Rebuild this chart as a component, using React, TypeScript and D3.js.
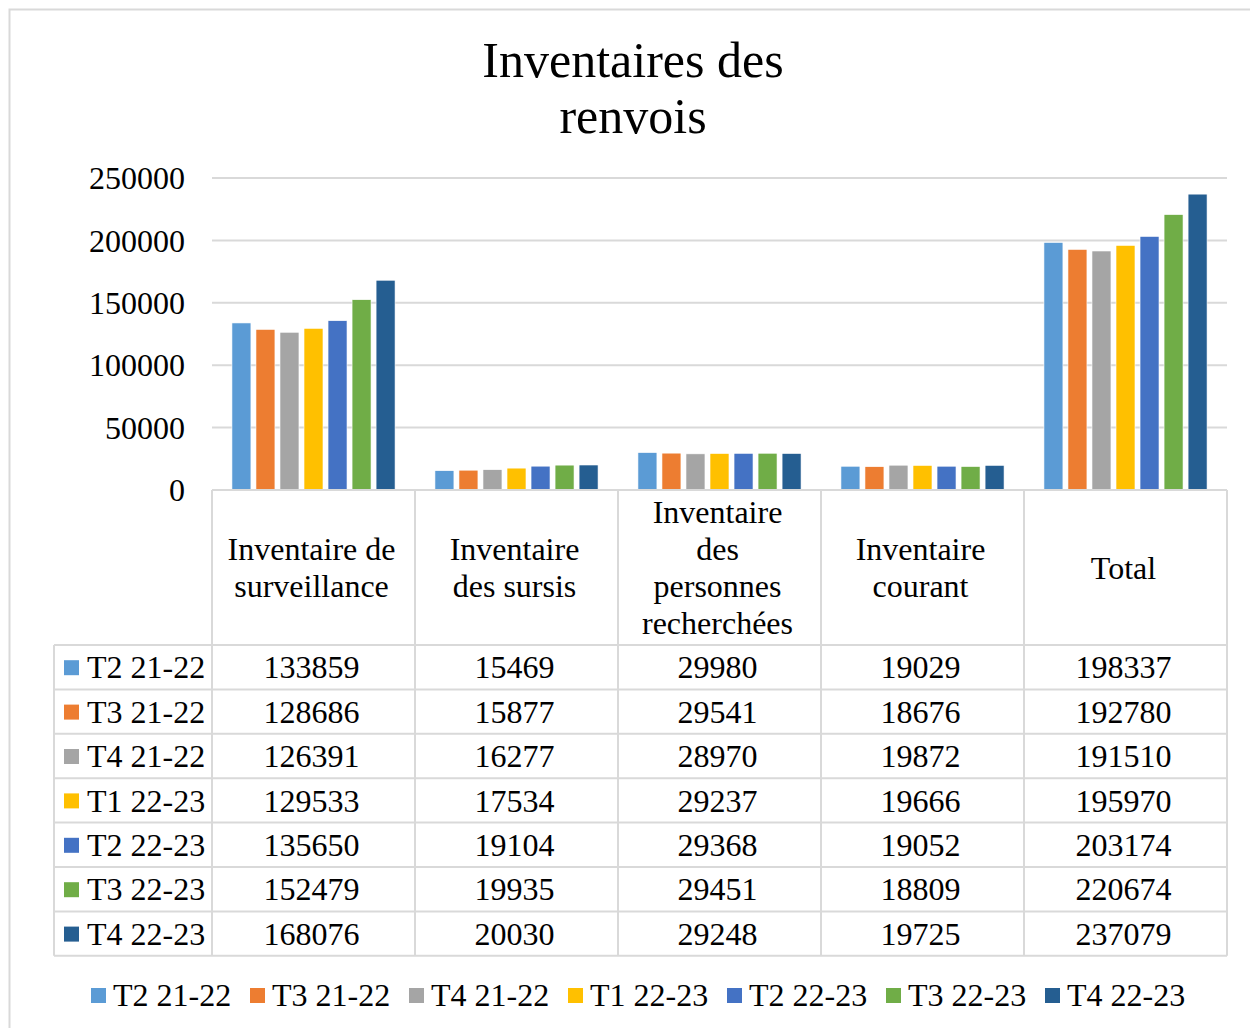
import React from 'react';
import * as d3 from 'd3';

const categories = [
  ['Inventaire de', 'surveillance'],
  ['Inventaire', 'des sursis'],
  ['Inventaire', 'des', 'personnes', 'recherchées'],
  ['Inventaire', 'courant'],
  ['Total'],
];
const seriesNames = ['T2 21-22', 'T3 21-22', 'T4 21-22', 'T1 22-23', 'T2 22-23', 'T3 22-23', 'T4 22-23'];
const seriesColors = ['#5B9BD5', '#ED7D31', '#A5A5A5', '#FFC000', '#4472C4', '#70AD47', '#255E91'];
const values = [
  [133859, 15469, 29980, 19029, 198337],
  [128686, 15877, 29541, 18676, 192780],
  [126391, 16277, 28970, 19872, 191510],
  [129533, 17534, 29237, 19666, 195970],
  [135650, 19104, 29368, 19052, 203174],
  [152479, 19935, 29451, 18809, 220674],
  [168076, 20030, 29248, 19725, 237079],
];
const yTicks = [0, 50000, 100000, 150000, 200000, 250000];

const W = 1250;
const H = 1028;
const plotLeft = 212;
const plotRight = 1227;
const plotTop = 178;
const plotBottom = 490;
const tableLeft = 54;
const headerBottom = 645;
const rowH = 44.4;
const font = '"Liberation Serif", "Times New Roman", serif';
const gridColor = '#D9D9D9';
const fs = 32;

export default function App() {
  const x = d3.scaleBand<number>()
    .domain(d3.range(categories.length))
    .range([plotLeft, plotRight]);
  const inner = d3.scaleBand<number>()
    .domain(d3.range(seriesNames.length))
    .range([0, x.bandwidth()])
    .paddingInner(0.21)
    .paddingOuter(0.83);
  const y = d3.scaleLinear().domain([0, 250000]).range([plotBottom, plotTop]);

  const tableBottom = headerBottom + rowH * seriesNames.length;
  const colEdges = [...x.domain().map(i => x(i)!), plotRight];

  return (
    <svg width={W} height={H} style={{ position: 'absolute', left: 0, top: 0, background: '#fff' }}
      fontFamily={font}>
      <rect x={9.5} y={9.5} width={W + 20} height={H + 20} fill="#fff" stroke={gridColor} strokeWidth={2} />

      <text x={633} y={77} textAnchor="middle" fontSize={50}>Inventaires des</text>
      <text x={633} y={133} textAnchor="middle" fontSize={50}>renvois</text>

      {yTicks.map(t => (
        <g key={t}>
          {t > 0 && <line x1={plotLeft} x2={plotRight} y1={y(t)} y2={y(t)} stroke={gridColor} strokeWidth={2} />}
          <text x={185} y={y(t)} dy="0.35em" textAnchor="end" fontSize={fs}>{t}</text>
        </g>
      ))}

      {values.map((row, s) => (
        <g key={s}>
          {row.map((v, c) => (
            <rect key={c}
              x={x(c)! + inner(s)!}
              y={y(v)}
              width={inner.bandwidth()}
              height={plotBottom - y(v)}
              fill={seriesColors[s]}
              stroke="#fff"
              strokeWidth={0.6} />
          ))}
        </g>
      ))}

      {/* data table */}
      <line x1={plotLeft} x2={plotRight} y1={plotBottom} y2={plotBottom} stroke={gridColor} strokeWidth={2} />
      {colEdges.map((cx, i) => (
        <line key={i} x1={cx} x2={cx} y1={plotBottom} y2={tableBottom} stroke={gridColor} strokeWidth={2} />
      ))}
      <line x1={tableLeft} x2={tableLeft} y1={headerBottom} y2={tableBottom} stroke={gridColor} strokeWidth={2} />
      {d3.range(seriesNames.length + 1).map(r => (
        <line key={r} x1={tableLeft} x2={plotRight}
          y1={headerBottom + r * rowH} y2={headerBottom + r * rowH}
          stroke={gridColor} strokeWidth={2} />
      ))}

      {categories.map((lines, c) => {
        const cy = (plotBottom + headerBottom) / 2;
        const lh = 37;
        const startY = cy - ((lines.length - 1) * lh) / 2;
        const cx = x(c)! + x.bandwidth() / 2 - 2;
        return (
          <text key={c} x={cx} textAnchor="middle" fontSize={fs}>
            {lines.map((l, k) => (
              <tspan key={k} x={cx} y={startY + k * lh} dy="0.35em">{l}</tspan>
            ))}
          </text>
        );
      })}

      {seriesNames.map((name, s) => {
        const cy = headerBottom + s * rowH + rowH / 2;
        return (
          <g key={name}>
            <rect x={64} y={cy - 7} width={15} height={15} fill={seriesColors[s]} />
            <text x={87} y={cy} dy="0.35em" fontSize={fs}>{name}</text>
            {values[s].map((v, c) => (
              <text key={c} x={x(c)! + x.bandwidth() / 2 - 2} y={cy} dy="0.35em" textAnchor="middle" fontSize={fs}>{v}</text>
            ))}
          </g>
        );
      })}

      {/* legend */}
      {seriesNames.map((name, s) => {
        const lx = 91 + s * 159;
        const cy = 995;
        return (
          <g key={name}>
            <rect x={lx} y={cy - 7} width={15} height={15} fill={seriesColors[s]} />
            <text x={lx + 22} y={cy} dy="0.35em" fontSize={fs}>{name}</text>
          </g>
        );
      })}
    </svg>
  );
}
